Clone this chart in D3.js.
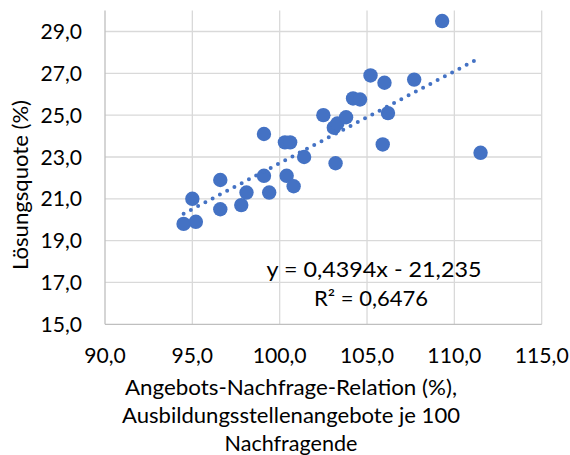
<!DOCTYPE html>
<html>
<head>
<meta charset="utf-8">
<script src="https://cdn.jsdelivr.net/npm/d3@7"></script>
<style>
  body { margin: 0; background: #fff; }
  svg text { font-family: Lato, "Open Sans", sans-serif; fill: #000; }
</style>
</head>
<body>
<div class="d3-chart"></div>
<script>
// Angebots-Nachfrage-Relation (%) vs Lösungsquote (%)
const anr = [94.5, 95.2, 95.0, 96.6, 96.6, 97.8, 98.1, 99.1, 99.1, 99.4,
  100.3, 100.6, 100.4, 100.8, 101.4, 102.5, 103.1, 103.3, 103.8, 104.2,
  104.6, 103.2, 105.2, 106.0, 106.2, 105.9, 107.7, 109.3, 111.5];
const quote = [19.8, 19.9, 21.0, 21.9, 20.5, 20.7, 21.3, 24.1, 22.1, 21.3,
  23.7, 23.7, 22.1, 21.6, 23.0, 25.0, 24.4, 24.6, 24.9, 25.8,
  25.75, 22.7, 26.9, 26.55, 25.1, 23.6, 26.7, 29.5, 23.2];
const xTicks = [90, 95, 100, 105, 110, 115];
const yTicks = [15, 17, 19, 21, 23, 25, 27, 29];
const slope = 0.4394, intercept = -21.235;
const r2 = 0.6476;

const width = 570, height = 455;
const fmt = v => v.toFixed(1).replace(".", ",");
const fmt4 = v => v.toFixed(4).replace(".", ",");
const fs = 21;

const svg = d3.select(".d3-chart")
  .append("svg")
  .attr("width", width)
  .attr("height", height);

const x = d3.scaleLinear().domain([90, 115]).range([105, 541.7]);
const y = d3.scaleLinear().domain([15, 30]).range([324.3, 10.6]);

// gridlines
svg.append("g")
  .selectAll("line")
  .data(yTicks.slice(1))
  .join("line")
  .attr("x1", x(90)).attr("x2", x(115))
  .attr("y1", d => y(d)).attr("y2", d => y(d))
  .attr("stroke", "#d9d9d9").attr("stroke-width", 1.3);

svg.append("g")
  .selectAll("line")
  .data(xTicks.slice(1))
  .join("line")
  .attr("x1", d => x(d)).attr("x2", d => x(d))
  .attr("y1", y(15)).attr("y2", y(30))
  .attr("stroke", "#d9d9d9").attr("stroke-width", 1.3);

// axis lines
svg.append("line")
  .attr("x1", x(90)).attr("x2", x(115))
  .attr("y1", y(15)).attr("y2", y(15))
  .attr("stroke", "#bfbfbf").attr("stroke-width", 1.3);
svg.append("line")
  .attr("x1", x(90)).attr("x2", x(90))
  .attr("y1", y(15)).attr("y2", y(30))
  .attr("stroke", "#bfbfbf").attr("stroke-width", 1.3);

// tick labels (stretched a bit so Lato matches the wider original lettering)
svg.append("g")
  .selectAll("text")
  .data(yTicks)
  .join("text")
  .attr("x", 82)
  .attr("y", d => y(d))
  .attr("dy", "0.36em")
  .attr("text-anchor", "end")
  .attr("font-size", fs)
  .attr("textLength", 41.5)
  .attr("lengthAdjust", "spacingAndGlyphs")
  .text(fmt);

svg.append("g")
  .selectAll("text")
  .data(xTicks)
  .join("text")
  .attr("x", d => x(d))
  .attr("y", 362.5)
  .attr("text-anchor", "middle")
  .attr("font-size", fs)
  .attr("textLength", d => d >= 100 ? 54 : 41.5)
  .attr("lengthAdjust", "spacingAndGlyphs")
  .text(fmt);

// points
svg.append("g")
  .selectAll("circle")
  .data(anr.map((d, i) => [d, quote[i]]))
  .join("circle")
  .attr("cx", d => x(d[0]))
  .attr("cy", d => y(d[1]))
  .attr("r", 7.2)
  .attr("fill", "#4472c4");

// linear trendline
const [xMin, xMax] = d3.extent(anr);
svg.append("line")
  .attr("x1", x(xMin)).attr("y1", y(slope * xMin + intercept))
  .attr("x2", x(xMax)).attr("y2", y(slope * xMax + intercept))
  .attr("stroke", "#4472c4")
  .attr("stroke-width", 4)
  .attr("stroke-linecap", "round")
  .attr("stroke-dasharray", "0 8.2");

// equation
svg.append("text")
  .attr("x", 374).attr("y", 276.5)
  .attr("text-anchor", "middle")
  .attr("font-size", fs)
  .attr("textLength", 215)
  .attr("lengthAdjust", "spacingAndGlyphs")
  .text("y = " + fmt4(slope) + "x - " + Math.abs(intercept).toFixed(3).replace(".", ","));
svg.append("text")
  .attr("x", 371).attr("y", 305.5)
  .attr("text-anchor", "middle")
  .attr("font-size", fs)
  .attr("textLength", 114)
  .attr("lengthAdjust", "spacingAndGlyphs")
  .text("R² = " + fmt4(r2));

// axis titles
svg.append("text")
  .attr("transform", "translate(27.5,185) rotate(-90)")
  .attr("text-anchor", "middle")
  .attr("font-size", fs)
  .attr("textLength", 170)
  .attr("lengthAdjust", "spacingAndGlyphs")
  .text("Lösungsquote (%)");

const xTitle = ["Angebots-Nachfrage-Relation (%),", "Ausbildungsstellenangebote je 100", "Nachfragende"];
const xTitleLen = [332, 338, 133];
svg.append("g")
  .selectAll("text")
  .data(xTitle)
  .join("text")
  .attr("x", 291)
  .attr("y", (d, i) => 395 + i * 27.8)
  .attr("text-anchor", "middle")
  .attr("font-size", fs)
  .attr("textLength", (d, i) => xTitleLen[i])
  .attr("lengthAdjust", "spacingAndGlyphs")
  .text(d => d);
</script>
</body>
</html>
